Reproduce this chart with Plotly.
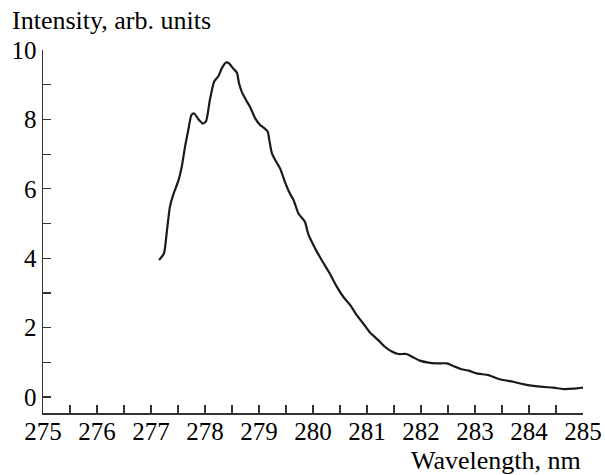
import plotly.graph_objects as go

wavelength = [277.15, 277.24, 277.29, 277.35, 277.41, 277.51, 277.57, 277.63, 277.69, 277.75,
              277.80, 277.88, 277.96, 278.02, 278.09, 278.17, 278.25, 278.31, 278.39, 278.45,
              278.52, 278.59, 278.63, 278.68, 278.76, 278.83, 278.93, 279.02, 279.08, 279.16,
              279.19, 279.24, 279.30, 279.39, 279.48, 279.57, 279.64, 279.73, 279.85, 279.91,
              280.04, 280.16, 280.31, 280.44, 280.56, 280.69, 280.81, 280.93, 281.06, 281.21,
              281.33, 281.46, 281.58, 281.73, 281.86, 281.98, 282.14, 282.29, 282.48, 282.60,
              282.75, 282.89, 283.03, 283.25, 283.40, 283.52, 283.71, 283.89, 284.08, 284.26,
              284.45, 284.64, 284.82, 285.01]
intensity = [3.95, 4.14, 4.72, 5.48, 5.82, 6.25, 6.64, 7.21, 7.69, 8.13,
             8.17, 8.00, 7.88, 7.95, 8.56, 9.09, 9.25, 9.47, 9.64, 9.61,
             9.47, 9.35, 9.04, 8.80, 8.56, 8.37, 8.03, 7.84, 7.77, 7.65,
             7.41, 7.02, 6.83, 6.59, 6.20, 5.87, 5.68, 5.29, 5.05, 4.71,
             4.28, 3.95, 3.56, 3.18, 2.89, 2.65, 2.36, 2.12, 1.85, 1.64,
             1.45, 1.31, 1.24, 1.24, 1.14, 1.05, 0.99, 0.97, 0.97, 0.89,
             0.80, 0.76, 0.68, 0.63, 0.54, 0.49, 0.44, 0.37, 0.32, 0.29,
             0.27, 0.23, 0.24, 0.27]

x_ticks = [275, 276, 277, 278, 279, 280, 281, 282, 283, 284, 285]
y_ticks = [0, 2, 4, 6, 8, 10]

FONT = "Liberation Serif, Times New Roman, serif"

fig = go.Figure()
fig.add_trace(go.Scatter(x=wavelength, y=intensity, mode="lines",
                         line=dict(color="#1a1a1a", width=2.2, shape="spline", smoothing=0.6),
                         showlegend=False, hoverinfo="skip", cliponaxis=False))

fig.update_layout(
    width=605, height=475,
    margin=dict(l=43, r=22, t=50, b=62, autoexpand=False),
    paper_bgcolor="white", plot_bgcolor="white",
    font=dict(family=FONT, size=25, color="black"),
    xaxis=dict(range=[275, 285], tickvals=x_ticks, ticktext=[str(v) for v in x_ticks],
               ticks="inside", ticklen=8, tickwidth=1.2, tickcolor="#333",
               showline=True, linecolor="#333", linewidth=1.5,
               showgrid=False, zeroline=False, automargin=False,
               ticklabelstandoff=-5,
               minor=dict(dtick=0.5, tick0=275, ticks="inside", ticklen=8, tickwidth=1.2,
                          tickcolor="#333", showgrid=False),
               tickfont=dict(family=FONT, size=25, color="black")),
    yaxis=dict(range=[-0.46, 10], tickvals=y_ticks, ticktext=[str(v) for v in y_ticks],
               ticks="inside", ticklen=8, tickwidth=1.2, tickcolor="#333",
               showline=True, linecolor="#333", linewidth=1.5,
               showgrid=False, zeroline=False, automargin=False,
               minor=dict(dtick=1, tick0=0, ticks="inside", ticklen=8, tickwidth=1.2,
                          tickcolor="#333", showgrid=False),
               tickfont=dict(family=FONT, size=25, color="black")),
    annotations=[
        dict(text="Intensity, arb. units", xref="paper", yref="paper",
             x=-0.062, y=1.080, xanchor="left", yanchor="middle", showarrow=False,
             font=dict(family=FONT, size=26, color="black")),
        dict(text="Wavelength, nm", xref="paper", yref="paper",
             x=1.0, y=-0.132, xanchor="right", yanchor="middle", showarrow=False,
             font=dict(family=FONT, size=26, color="black")),
    ],
)

fig.write_html("out.html",
               config={"displayModeBar": False, "staticPlot": True},
               post_script="document.body.style.margin='0';document.body.style.overflow='hidden';")
